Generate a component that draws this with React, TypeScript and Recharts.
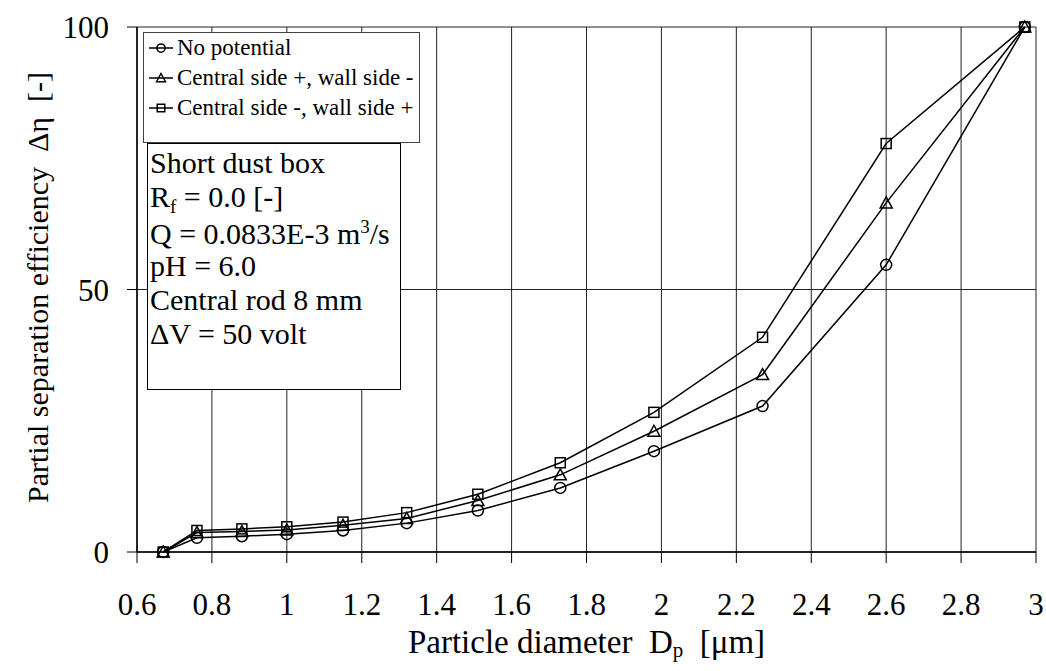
import React from 'react';
import { LineChart, Line, XAxis, YAxis, CartesianGrid, Legend, Label } from 'recharts';

const diameters = [0.67, 0.76, 0.88, 1.0, 1.15, 1.32, 1.51, 1.73, 1.98, 2.27, 2.6, 2.97];
const noPotential = [0, 2.7, 3.0, 3.4, 4.1, 5.5, 7.9, 12.2, 19.2, 27.8, 54.7, 100];
const centralPlus = [0, 3.7, 3.9, 4.2, 5.1, 6.4, 9.8, 14.7, 23.0, 33.8, 66.5, 100];
const centralMinus = [0, 4.1, 4.4, 4.8, 5.7, 7.5, 11.0, 17.0, 26.6, 40.9, 77.8, 100];

const xTicks = [0.6, 0.8, 1, 1.2, 1.4, 1.6, 1.8, 2, 2.2, 2.4, 2.6, 2.8, 3];
const yTicks = [0, 50, 100];

const seriesKeys = ['noPotential', 'centralPlus', 'centralMinus'];
const seriesNames = ['No potential', 'Central side +, wall side -', 'Central side -, wall side +'];
const seriesShapes = ['circle', 'triangle', 'square'];

const data = diameters.map((d, i) => ({
  x: d,
  noPotential: noPotential[i],
  centralPlus: centralPlus[i],
  centralMinus: centralMinus[i],
}));

const FONT = 'Liberation Serif, Times New Roman, DejaVu Serif, serif';
const TICK_FONT = 31;
const LEGEND_FONT = 23;
const TEXT_FONT = 30;

function Marker({ shape, cx, cy, s = 1 }: { shape: string; cx: number; cy: number; s?: number }) {
  if (cx == null || cy == null) return null;
  if (shape === 'circle') {
    return <circle cx={cx} cy={cy} r={5.5 * s} fill="none" stroke="#000" strokeWidth={1.5} />;
  }
  if (shape === 'triangle') {
    return (
      <polygon
        points={`${cx},${cy - 6 * s} ${cx - 6 * s},${cy + 5 * s} ${cx + 6 * s},${cy + 5 * s}`}
        fill="none"
        stroke="#000"
        strokeWidth={1.5}
      />
    );
  }
  return (
    <rect x={cx - 5 * s} y={cy - 5 * s} width={10 * s} height={10 * s} fill="none" stroke="#000" strokeWidth={1.5} />
  );
}

const renderLegend = () => (
  <div
    style={{
      border: '1px solid #444',
      background: '#fff',
      width: 277,
      height: 111,
      boxSizing: 'border-box',
      fontFamily: FONT,
      fontSize: LEGEND_FONT,
      color: '#000',
      paddingTop: 0,
      paddingLeft: 4,
    }}
  >
    {seriesNames.map((name, i) => (
      <div key={name} style={{ display: 'flex', alignItems: 'center', height: 30, whiteSpace: 'nowrap' }}>
        <svg width={26} height={16} style={{ marginRight: 3, flexShrink: 0 }}>
          <line x1={1} y1={8} x2={25} y2={8} stroke="#000" strokeWidth={1.5} />
          <Marker shape={seriesShapes[i]} cx={13} cy={8} s={0.75} />
        </svg>
        <span>{name}</span>
      </div>
    ))}
  </div>
);

const infoLines = ['Short dust box', 'Rf', 'Q', 'pH = 6.0', 'Central rod 8 mm', '\u0394V = 50 volt'];
const infoShift: Record<string, number> = { Q: 3, 'pH = 6.0': -2 };

function renderInfo(line: string) {
  if (line === 'Rf') {
    return (
      <span>
        R<span style={{ fontSize: 19, position: 'relative', top: 6 }}>f</span> = 0.0 [-]
      </span>
    );
  }
  if (line === 'Q') {
    return (
      <span>
        Q = 0.0833E-3 m<span style={{ fontSize: 19, position: 'relative', top: -11 }}>3</span>/s
      </span>
    );
  }
  return <span>{line}</span>;
}

const XTitle = (props: any) => {
  const vb = props.viewBox || {};
  const cx = vb.x + vb.width / 2;
  const y = vb.y + 101;
  return (
    <text x={cx} y={y} textAnchor="middle" fontFamily={FONT} fontSize={33} fill="#000" style={{ whiteSpace: 'pre' }}>
      <tspan>{'Particle diameter  D'}</tspan>
      <tspan dy={4} fontSize={21}>p</tspan>
      <tspan dy={-4}>{'  [\u03bcm]'}</tspan>
    </text>
  );
};

const YTitle = (props: any) => {
  const vb = props.viewBox || {};
  const x = 40;
  const y = vb.y + vb.height / 2 - 2;
  return (
    <text
      x={x}
      y={y}
      textAnchor="middle"
      transform={`rotate(-90 ${x} ${y})`}
      fontFamily={FONT}
      fontSize={30}
      fill="#000"
      style={{ whiteSpace: 'pre' }}
    >
      {'Partial separation efficiency  \u0394\u03b7  [-]'}
    </text>
  );
};

export default function App() {
  return (
    <div style={{ width: 1030, height: 655, padding: 8, background: '#fff' }}>
      <style>
        {'html, body { margin: 0; padding: 0; overflow: hidden; background: #fff; } .recharts-surface { overflow: visible; } .recharts-wrapper { overflow: visible; }'}
      </style>
      <div style={{ position: 'relative', width: 1030, height: 655, fontFamily: FONT }}>
        <LineChart width={1030} height={655} data={data} margin={{ top: 19, right: 2, bottom: 31, left: 0 }}>
          <CartesianGrid stroke="#222" strokeWidth={1} horizontal vertical />
          <XAxis
            dataKey="x"
            type="number"
            domain={[0.6, 3]}
            ticks={xTicks}
            interval={0}
            height={80}
            tickSize={11}
            tickMargin={30}
            axisLine={{ stroke: '#000', strokeWidth: 1.5 }}
            tickLine={{ stroke: '#000', strokeWidth: 1 }}
            tick={{ fontSize: TICK_FONT, fill: '#000', fontFamily: FONT }}
            allowDataOverflow
          >
            <Label content={<XTitle />} />
          </XAxis>
          <YAxis
            type="number"
            domain={[0, 100]}
            ticks={yTicks}
            width={129}
            tickSize={10}
            tickMargin={18}
            axisLine={{ stroke: '#000', strokeWidth: 1.5 }}
            tickLine={{ stroke: '#000', strokeWidth: 1 }}
            tick={{ fontSize: TICK_FONT, fill: '#000', fontFamily: FONT }}
          >
            <Label content={<YTitle />} />
          </YAxis>
          <Legend
            layout="vertical"
            align="center"
            verticalAlign="middle"
            content={renderLegend}
            wrapperStyle={{ left: 135, top: 24, width: 'auto', height: 'auto' }}
          />
          {seriesKeys.map((k, i) => (
            <Line
              key={k}
              dataKey={k}
              name={seriesNames[i]}
              stroke="#000"
              strokeWidth={1.5}
              isAnimationActive={false}
              legendType="none"
              dot={(p: any) => <Marker key={`${k}-${p.index}`} shape={seriesShapes[i]} cx={p.cx} cy={p.cy} />}
              activeDot={false}
            />
          ))}
        </LineChart>
        <div
          style={{
            position: 'absolute',
            left: 139,
            top: 135,
            width: 254,
            height: 247,
            boxSizing: 'border-box',
            border: '1.5px solid #000',
            background: '#fff',
            fontFamily: FONT,
            fontSize: TEXT_FONT,
            color: '#000',
            paddingLeft: 2,
            paddingTop: 2,
            lineHeight: '34px',
            whiteSpace: 'nowrap',
          }}
        >
          {infoLines.map((l) => (
            <div key={l} style={{ height: 34, marginTop: infoShift[l] || 0 }}>
              {renderInfo(l)}
            </div>
          ))}
        </div>
      </div>
    </div>
  );
}
